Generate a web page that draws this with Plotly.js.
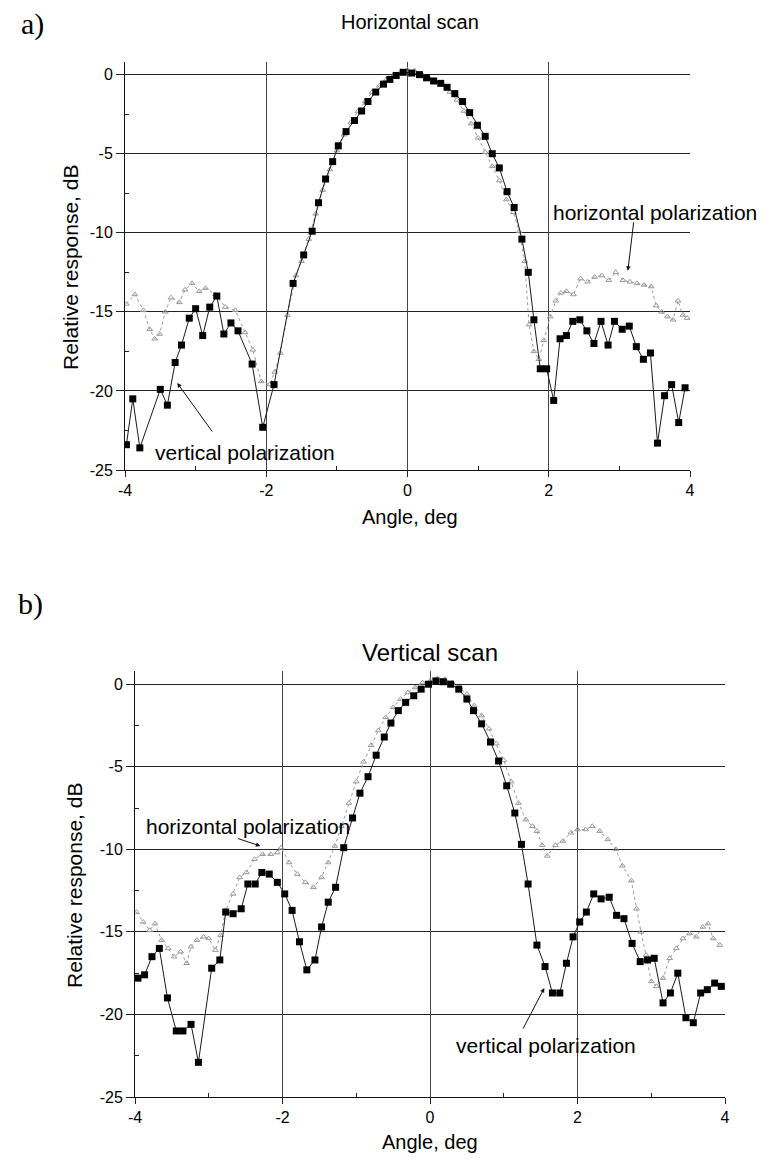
<!DOCTYPE html>
<html>
<head>
<meta charset="utf-8">
<script src="https://cdn.plot.ly/plotly-3.0.1.min.js"></script>
<style>html,body{margin:0;padding:0;background:#fff;}#chart{width:775px;height:1163px;}</style>
</head>
<body>
<div id="chart"></div>
<script>
// ---------- DATA ----------
// Panel a) Horizontal scan
const angA_v = [-3.98,-3.89,-3.79,-3.50,-3.40,-3.29,-3.20,-3.09,-3.00,-2.90,-2.80,-2.70,-2.60,-2.50,-2.40,-2.20,-2.05,-1.89,-1.62,-1.47,-1.35,-1.26,-1.16,-1.06,-0.98,-0.87,-0.75,-0.65,-0.56,-0.45,-0.34,-0.25,-0.16,-0.06,0.06,0.17,0.27,0.37,0.47,0.56,0.67,0.78,0.88,0.99,1.10,1.20,1.30,1.41,1.51,1.62,1.71,1.79,1.88,1.97,2.07,2.16,2.25,2.34,2.44,2.54,2.64,2.74,2.84,2.93,3.04,3.14,3.24,3.34,3.44,3.54,3.64,3.74,3.84,3.93];
const dbA_v  = [-23.4,-20.5,-23.6,-19.9,-20.9,-18.2,-17.1,-15.4,-14.8,-16.5,-14.7,-14.0,-16.4,-15.7,-16.2,-18.3,-22.3,-19.6,-13.2,-11.4,-9.9,-8.1,-6.6,-5.5,-4.5,-3.6,-2.9,-2.3,-1.7,-1.1,-0.6,-0.3,-0.05,0.15,0.1,0.0,-0.2,-0.4,-0.55,-0.8,-1.2,-1.7,-2.4,-3.2,-3.9,-5.0,-5.9,-7.4,-8.4,-10.4,-12.5,-15.5,-18.6,-18.6,-20.6,-16.7,-16.5,-15.6,-15.5,-16.2,-17.0,-15.6,-17.1,-15.6,-16.1,-15.9,-17.2,-18.0,-17.6,-23.3,-20.3,-19.6,-22.0,-19.8];
const angA_h = [-3.98,-3.86,-3.74,-3.65,-3.58,-3.51,-3.43,-3.35,-3.23,-3.15,-3.05,-2.95,-2.86,-2.72,-2.58,-2.44,-2.30,-2.19,-2.07,-1.95,-1.88,-1.80,-1.70,-1.58,-1.50,-1.40,-1.30,-1.20,-1.10,-1.00,-0.90,-0.80,-0.70,-0.60,-0.50,-0.40,-0.30,-0.20,-0.10,0.00,0.10,0.20,0.30,0.40,0.50,0.60,0.70,0.80,0.90,1.00,1.10,1.20,1.30,1.40,1.50,1.58,1.66,1.72,1.79,1.86,1.93,2.02,2.10,2.17,2.25,2.35,2.45,2.55,2.65,2.75,2.85,2.95,3.05,3.15,3.25,3.35,3.45,3.52,3.60,3.68,3.76,3.83,3.90,3.96];
const dbA_h  = [-14.5,-13.9,-14.9,-16.1,-16.7,-16.4,-15.0,-14.1,-14.4,-13.6,-13.2,-13.7,-13.5,-13.9,-14.7,-14.9,-16.3,-17.4,-19.4,-19.6,-18.8,-17.6,-15.2,-12.7,-11.8,-10.4,-8.8,-7.3,-6.0,-4.8,-3.8,-3.0,-2.3,-1.7,-1.1,-0.7,-0.3,-0.05,0.15,0.3,0.25,0.05,-0.2,-0.45,-0.65,-1.1,-1.6,-2.3,-3.1,-4.0,-4.9,-5.8,-6.7,-7.9,-8.7,-9.9,-11.8,-15.8,-17.5,-18.0,-16.8,-15.3,-14.3,-13.8,-13.7,-13.9,-12.9,-13.1,-12.8,-12.7,-13.0,-12.5,-13.0,-13.1,-13.2,-13.3,-13.4,-14.6,-15.0,-15.3,-15.5,-14.3,-15.2,-15.4];

// Panel b) Vertical scan
const angB_v = [-3.96,-3.87,-3.77,-3.67,-3.56,-3.44,-3.35,-3.24,-3.14,-2.96,-2.85,-2.77,-2.67,-2.56,-2.47,-2.37,-2.28,-2.18,-2.07,-1.97,-1.87,-1.77,-1.67,-1.56,-1.47,-1.38,-1.28,-1.17,-1.05,-0.95,-0.84,-0.73,-0.62,-0.53,-0.43,-0.33,-0.22,-0.12,-0.02,0.08,0.18,0.28,0.39,0.50,0.59,0.70,0.82,0.93,1.04,1.15,1.24,1.33,1.45,1.56,1.66,1.76,1.85,1.94,2.03,2.12,2.22,2.32,2.43,2.53,2.63,2.74,2.85,2.95,3.04,3.16,3.26,3.36,3.47,3.57,3.67,3.76,3.86,3.95];
const dbB_v  = [-17.8,-17.6,-16.5,-16.0,-19.0,-21.0,-21.0,-20.6,-22.9,-17.2,-16.7,-13.8,-13.9,-13.6,-12.1,-12.1,-11.4,-11.5,-12.0,-12.7,-13.7,-15.6,-17.3,-16.7,-14.7,-13.2,-12.3,-9.9,-8.1,-6.6,-5.6,-4.3,-3.2,-2.35,-1.6,-1.1,-0.7,-0.3,0.0,0.2,0.15,0.0,-0.3,-0.9,-1.6,-2.4,-3.5,-4.65,-6.15,-7.8,-9.7,-12.1,-15.8,-17.1,-18.7,-18.7,-16.9,-15.3,-14.4,-13.8,-12.7,-13.0,-12.9,-14.0,-14.2,-15.7,-16.8,-16.7,-16.6,-19.3,-18.7,-17.5,-20.2,-20.5,-18.7,-18.5,-18.1,-18.3];
const angB_h = [-3.98,-3.89,-3.80,-3.73,-3.64,-3.55,-3.47,-3.38,-3.30,-3.24,-3.16,-3.07,-3.00,-2.91,-2.84,-2.77,-2.67,-2.58,-2.49,-2.38,-2.27,-2.16,-2.07,-2.02,-1.91,-1.80,-1.69,-1.58,-1.47,-1.38,-1.29,-1.20,-1.10,-1.00,-0.90,-0.80,-0.70,-0.60,-0.50,-0.40,-0.30,-0.20,-0.10,0.00,0.10,0.20,0.30,0.40,0.50,0.60,0.70,0.80,0.90,1.00,1.10,1.20,1.30,1.39,1.45,1.52,1.59,1.70,1.80,1.91,2.00,2.11,2.20,2.30,2.41,2.52,2.61,2.73,2.80,2.86,2.93,3.00,3.07,3.16,3.25,3.34,3.43,3.52,3.61,3.70,3.77,3.84,3.93];
const dbB_h  = [-13.8,-14.4,-14.9,-14.5,-15.5,-16.0,-16.5,-16.2,-16.9,-15.9,-15.5,-15.3,-15.4,-16.1,-15.2,-13.7,-12.7,-11.7,-11.4,-10.6,-10.3,-10.3,-10.2,-9.9,-10.8,-11.5,-12.0,-12.3,-11.7,-10.8,-9.8,-8.6,-7.2,-5.9,-4.7,-3.7,-2.8,-2.0,-1.4,-0.9,-0.5,-0.2,0.1,0.2,0.35,0.3,0.1,-0.2,-0.6,-1.3,-1.9,-2.7,-3.6,-4.6,-5.9,-7.2,-8.2,-8.6,-8.9,-9.75,-10.4,-9.75,-9.5,-9.0,-8.8,-8.8,-8.6,-8.9,-9.4,-10.0,-11.0,-11.9,-13.6,-15.0,-16.4,-18.0,-18.3,-17.8,-16.6,-16.0,-15.4,-15.1,-15.3,-14.7,-14.5,-15.4,-15.8];

// Tick labels
const xTickVals = [-4,-2,0,2,4];
const xTickText = ['-4','-2','0','2','4'];
const yTickVals = [-25,-20,-15,-10,-5,0];
const yTickText = ['-25','-20','-15','-10','-5','0'];
const gridX = [-2,0,2];

// ---------- STYLE ----------
const W = 775, H = 1163;
const FONT = 'Liberation Sans, Arial, Helvetica, sans-serif';
const INK = '#000';
const px = v => v / W;
const py = v => 1 - v / H;

function vTrace(x, y, xa, ya) {
  return {x, y, xaxis: xa, yaxis: ya, type: 'scatter', mode: 'lines+markers',
    line: {color: '#1a1a1a', width: 1},
    marker: {symbol: 'square', size: 7, color: '#000'}, hoverinfo: 'skip'};
}
function hTrace(x, y, xa, ya) {
  return {x, y, xaxis: xa, yaxis: ya, type: 'scatter', mode: 'lines+markers',
    line: {color: '#999', width: 1, dash: 'dot'},
    marker: {symbol: 'triangle-up-open', size: 5, color: '#999', line: {width: 1, color: '#999'}},
    hoverinfo: 'skip'};
}
// carrier traces so the grid-only overlay axes get drawn (no visible points)
function gridCarrier(xa, ya) {
  return {x: gridX, y: gridX.map(() => null), xaxis: xa, yaxis: ya, type: 'scatter', mode: 'lines',
    hoverinfo: 'skip', showlegend: false};
}

const data = [
  gridCarrier('x3', 'y'),
  gridCarrier('x4', 'y2'),
  hTrace(angA_h, dbA_h, 'x', 'y'),
  vTrace(angA_v, dbA_v, 'x', 'y'),
  hTrace(angB_h, dbB_h, 'x2', 'y2'),
  vTrace(angB_v, dbB_v, 'x2', 'y2')
];

function xAxis(dom, anchor) {
  return {domain: dom, anchor, range: [-4, 4], tickvals: xTickVals, ticktext: xTickText,
    ticks: 'outside', ticklen: 6, tickcolor: '#222', showline: true, linecolor: '#111', linewidth: 1,
    showgrid: false, zeroline: false, tickfont: {family: FONT, size: 16, color: INK},
    minor: {tickvals: [-3,-1,1,3], ticks: 'inside', ticklen: 4, tickcolor: '#222', showgrid: false}};
}
function gridAxis(over, anchor) {
  return {overlaying: over, anchor, range: [-4, 4], tickvals: gridX, showgrid: true, gridcolor: '#444', gridwidth: 1,
    showticklabels: false, ticks: '', showline: false, zeroline: false};
}
function yAxis(dom, anchor) {
  return {domain: dom, anchor, range: [-25, 0.8], tickvals: yTickVals, ticktext: yTickText,
    ticks: 'outside', ticklen: 8, tickcolor: '#222', showline: true, linecolor: '#111', linewidth: 1,
    showgrid: true, gridcolor: '#222', gridwidth: 1, zeroline: false,
    tickfont: {family: FONT, size: 16, color: INK},
    minor: {tickvals: [-22.5,-17.5,-12.5,-7.5,-2.5], ticks: 'inside', ticklen: 4, tickcolor: '#222', showgrid: false}};
}

function txt(text, x, y, size, extra) {
  return Object.assign({text, xref: 'paper', yref: 'paper', x: px(x), y: py(y), showarrow: false,
    xanchor: 'center', yanchor: 'middle', font: {family: FONT, size, color: INK}}, extra || {});
}
function arrow(xr, yr, hx, hy, ax, ay) {
  return {text: '', xref: xr, yref: yr, x: hx, y: hy, ax, ay, axref: 'pixel', ayref: 'pixel',
    showarrow: true, arrowhead: 2, arrowsize: 0.9, arrowwidth: 1, arrowcolor: '#111', standoff: 0, startstandoff: 0};
}
const SERIF = {family: 'Liberation Serif, Times New Roman, serif', size: 30, color: INK};

const annotations = [
  txt('a)', 32, 24, 30, {font: SERIF}),
  txt('Horizontal scan', 410, 22, 20),
  txt('Relative response, dB', 70, 268, 21, {textangle: -90}),
  txt('Angle, deg', 410, 517, 20),
  txt('horizontal polarization', 655, 212, 21),
  arrow('x', 'y', 3.12, -12.4, 6, -50),
  txt('vertical polarization', 245, 452, 21),
  arrow('x', 'y', -3.26, -19.5, 36, 50),

  txt('b)', 30, 604, 30, {font: SERIF}),
  txt('Vertical scan', 430, 652, 24),
  txt('Relative response, dB', 74, 886, 21, {textangle: -90}),
  txt('Angle, deg', 430, 1142, 20),
  txt('horizontal polarization', 248, 826, 21),
  arrow('x2', 'y2', -2.3, -9.8, -24, -8),
  txt('vertical polarization', 546, 1045, 21),
  arrow('x2', 'y2', 1.55, -18.4, -22, 42)
];

const layout = {
  width: W, height: H, margin: {l: 0, r: 0, t: 0, b: 0},
  paper_bgcolor: '#fff', plot_bgcolor: '#fff', showlegend: false,
  font: {family: FONT, color: INK},
  xaxis: xAxis([px(125), px(690)], 'y'),
  yaxis: yAxis([py(470), py(62)], 'x'),
  xaxis3: gridAxis('x', 'y'),
  xaxis2: xAxis([px(135), px(725)], 'y2'),
  yaxis2: yAxis([py(1097), py(671)], 'x2'),
  xaxis4: gridAxis('x2', 'y2'),
  annotations
};

Plotly.newPlot('chart', data, layout, {staticPlot: true, displayModeBar: false});
</script>
</body>
</html>
